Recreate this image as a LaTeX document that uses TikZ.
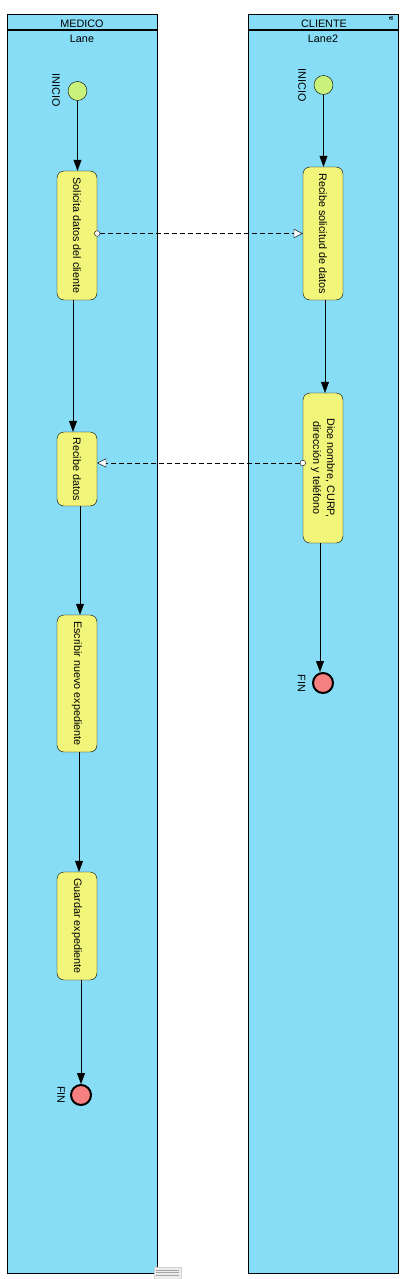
\documentclass[tikz,border=0pt]{standalone}
\usepackage{fontspec}
\setmainfont{Liberation Sans}
\usetikzlibrary{arrows.meta,calc}
\definecolor{lanefill}{RGB}{135,221,245}
\definecolor{taskfill}{RGB}{241,245,122}
\definecolor{startfill}{RGB}{200,242,122}
\definecolor{endfill}{RGB}{245,128,128}
\begin{document}
\begin{tikzpicture}[x=1pt,y=-1pt,font=\fontsize{10.8}{14}\selectfont,
  lane/.style={draw,fill=lanefill,line width=0.9pt},
  task/.style={draw,fill=taskfill,rounded corners=7pt,minimum width=40pt,inner sep=0pt},
  startev/.style={circle,draw,fill=startfill,minimum size=19pt,inner sep=0pt},
  endev/.style={circle,draw,fill=endfill,line width=2pt,minimum size=20pt,inner sep=0pt},
  flow/.style={-{Triangle[length=11pt,width=8pt]}},
  msg/.style={dash pattern=on 5pt off 3pt,shorten <=-3pt,{Circle[fill=white,length=6pt]}-{Triangle[fill=white,length=9pt,width=9pt]}}]
\useasboundingbox (0,0) rectangle (407,1279);
\draw[lane] (7,14) rectangle (157,1273);
\draw[line width=1.6pt] (7,30)--(157,30);
\node[anchor=base] (medico) at (82,27.3) {MEDICO};
\node[anchor=base] (lane) at (82,42.7) {Lane};
\draw[lane] (248,14) rectangle (398,1273);
\draw[line width=1.6pt] (248,30)--(398,30);
\node[anchor=base] (cliente) at (324,27.3) {CLIENTE};
\node[anchor=base] (lanedos) at (323,42.7) {Lane2};
\node[font=\fontsize{7}{7}\selectfont\bfseries,rotate=90,inner sep=0pt] (icono) at (391,19) {a};
\node[startev] (ini) at (77.5,91) {};
\node[rotate=-90] (inilbl) at (56,90) {INICIO};
\node[task,minimum height=129pt] (sol) at (77,235.5) {\rotatebox{-90}{Solicita datos del cliente}};
\node[task,minimum height=74pt] (recd) at (77,469) {\rotatebox{-90}{Recibe datos}};
\node[task,minimum height=137pt] (esc) at (77,683.5) {\rotatebox{-90}{Escribir nuevo expediente}};
\node[task,minimum height=108pt] (guar) at (77,926) {\rotatebox{-90}{Guardar expediente}};
\node[endev] (fin) at (81,1095) {};
\node[rotate=-90] (finlbl) at (61,1095) {FIN};
\node[startev] (inidos) at (323.5,85) {};
\node[rotate=-90] (inidoslbl) at (302,85) {INICIO};
\node[task,minimum height=133pt] (recs) at (323,233.5) {\rotatebox{-90}{Recibe solicitud de datos}};
\node[task,minimum height=150pt] (dice) at (323,468) {\rotatebox{-90}{\begin{tabular}{@{}c@{}}Dice nombre, CURP,\\dirección y teléfono\end{tabular}}};
\node[endev] (findos) at (323,683) {};
\node[rotate=-90] (findoslbl) at (301.5,683.5) {FIN};
\draw[flow] (ini.south)--(ini.south |- sol.north);
\draw[flow] ([xshift=-4pt]sol.south)--([xshift=-4pt]recd.north);
\draw[flow] ([xshift=3pt]recd.south)--([xshift=3pt]esc.north);
\draw[flow] ([xshift=2pt]esc.south)--([xshift=2pt]guar.north);
\draw[flow] (fin.north |- guar.south)--(fin.north);
\draw[flow] (inidos.south)--(inidos.south |- recs.north);
\draw[flow] ([xshift=2pt]recs.south)--([xshift=2pt]dice.north);
\draw[flow] ([xshift=-3pt]dice.south)--([xshift=-3pt]dice.south |- findos.north);
\draw[msg] (sol.east |- recs.west)--(recs.west);
\draw[msg] ([yshift=5pt]dice.west)--([yshift=5pt]dice.west -| recd.east);
\draw[fill=gray!15,draw=gray!35] (154,1267) rectangle (181,1282);
\draw[gray!70] (156,1270)--(179,1270);
\draw[gray!70] (156,1272.5)--(179,1272.5);
\draw[gray!70] (156,1275)--(179,1275);
\end{tikzpicture}
\end{document}
